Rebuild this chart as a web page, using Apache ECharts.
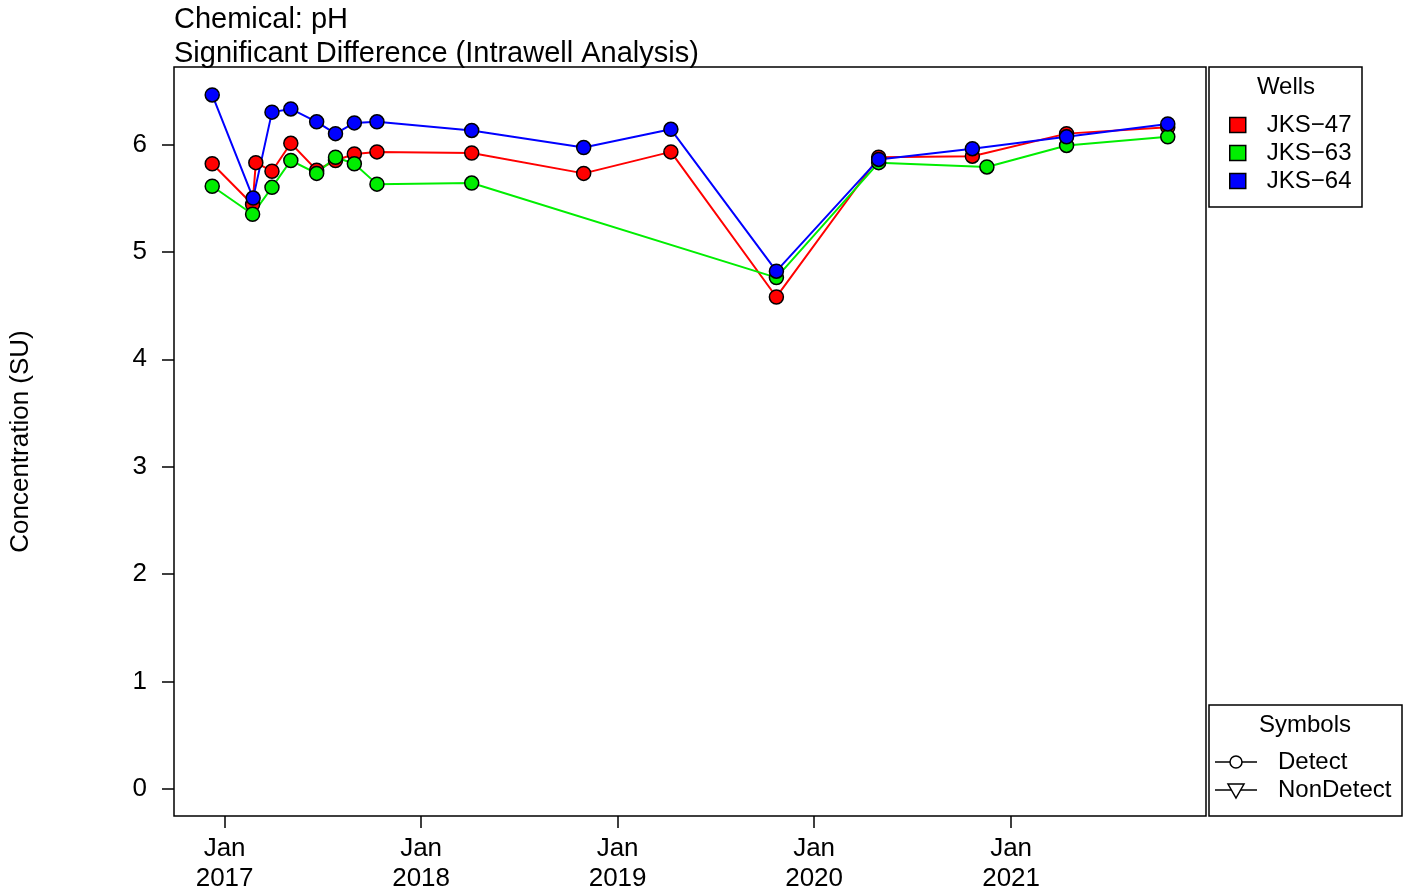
<!DOCTYPE html>
<html>
<head>
<meta charset="utf-8">
<script src="https://cdn.jsdelivr.net/npm/echarts@6/dist/echarts.min.js"></script>
<style>
  html, body { margin: 0; padding: 0; background: #fff; }
  #chart { width: 1406px; height: 896px; }
</style>
</head>
<body>
<div id="chart"></div>
<script>
var wells = ['JKS\u221247', 'JKS\u221263', 'JKS\u221264'];
var wellColors = ['#ff0000', '#00ee00', '#0000ff'];

var dates47 = ['2016-12-09', '2017-02-22', '2017-02-28', '2017-03-30', '2017-05-04', '2017-06-21',
  '2017-07-26', '2017-08-30', '2017-10-11', '2018-04-05', '2018-10-30', '2019-04-10',
  '2019-10-23', '2020-04-30', '2020-10-21', '2021-04-14', '2021-10-19'];
var ph47 = [5.82, 5.44, 5.83, 5.75, 6.01, 5.76, 5.85, 5.91, 5.93, 5.92, 5.73, 5.93,
  4.58, 5.88, 5.89, 6.10, 6.16];

var dates63 = ['2016-12-09', '2017-02-22', '2017-03-30', '2017-05-04', '2017-06-21', '2017-07-26',
  '2017-08-30', '2017-10-11', '2018-04-05', '2019-10-23', '2020-04-30', '2020-11-17',
  '2021-04-14', '2021-10-19'];
var ph63 = [5.61, 5.35, 5.60, 5.85, 5.73, 5.88, 5.82, 5.63, 5.64, 4.76, 5.83, 5.79, 5.99, 6.07];

var dates64 = ['2016-12-09', '2017-02-23', '2017-03-30', '2017-05-04', '2017-06-21', '2017-07-26',
  '2017-08-30', '2017-10-11', '2018-04-05', '2018-10-30', '2019-04-10', '2019-10-23',
  '2020-04-30', '2020-10-21', '2021-04-14', '2021-10-19'];
var ph64 = [6.46, 5.50, 6.30, 6.33, 6.21, 6.10, 6.20, 6.21, 6.13, 5.97, 6.14, 4.82,
  5.86, 5.96, 6.07, 6.19];

var xTicks = ['2017-01-01', '2018-01-01', '2019-01-01', '2020-01-01', '2021-01-01'];
var yTicks = [0, 1, 2, 3, 4, 5, 6];

var font = "'Liberation Sans', Arial, sans-serif";

function t(s) {
  var p = s.split('-');
  return new Date(+p[0], +p[1] - 1, +p[2]).getTime();
}
function pairs(ds, vs) {
  return ds.map(function (d, i) { return [t(d), vs[i]]; });
}

var chart = echarts.init(document.getElementById('chart'));

var seriesData = [pairs(dates47, ph47), pairs(dates63, ph63), pairs(dates64, ph64)];

chart.setOption({
  animation: false,
  title: {
    text: 'Chemical: pH\nSignificant Difference (Intrawell Analysis)',
    left: 174, top: 3, padding: 0,
    textStyle: { fontFamily: font, fontSize: 29, fontWeight: 'normal', color: '#000', lineHeight: 34 }
  },
  grid: {
    left: 174, top: 67, right: 200, bottom: 80,
    show: true, borderColor: '#000', borderWidth: 1.5, backgroundColor: 'transparent'
  },
  legend: {
    data: wells,
    orient: 'vertical',
    left: 1224, top: 108,
    icon: 'rect',
    itemWidth: 16, itemHeight: 15, itemGap: 4,
    itemStyle: { borderColor: '#000', borderWidth: 1.5 },
    textStyle: { fontFamily: font, fontSize: 24, color: '#000', lineHeight: 24, padding: [0, 0, 0, 16] }
  },
  xAxis: {
    type: 'value',
    min: t('2016-09-29'),
    max: t('2021-12-29'),
    axisLine: { show: false, onZero: false },
    axisTick: { show: true, inside: false, length: 12, lineStyle: { color: '#000', width: 1.5 }, customValues: xTicks.map(t) },
    axisLabel: {
      customValues: xTicks.map(t),
      margin: 18, fontFamily: font, fontSize: 26, color: '#000', lineHeight: 30,
      formatter: function (v) { return 'Jan\n' + new Date(v).getFullYear(); }
    },
    splitLine: { show: false }
  },
  yAxis: {
    type: 'value',
    min: -0.25, max: 6.72,
    name: 'Concentration (SU)',
    nameLocation: 'middle',
    nameGap: 140,
    nameTextStyle: { fontFamily: font, fontSize: 26, color: '#000' },
    axisLine: { show: false, onZero: false },
    axisTick: { show: true, inside: false, length: 12, lineStyle: { color: '#000', width: 1.5 }, customValues: yTicks },
    axisLabel: { customValues: yTicks, margin: 27, fontFamily: font, fontSize: 26, color: '#000' },
    splitLine: { show: false }
  },
  series: wells.map(function (w, i) {
    return {
      name: w,
      type: 'line',
      data: seriesData[i],
      symbol: 'circle',
      symbolSize: 14,
      showAllSymbol: true,
      lineStyle: { color: wellColors[i], width: 2 },
      itemStyle: { color: wellColors[i], borderColor: '#000', borderWidth: 1.5 },
      emphasis: { disabled: true }
    };
  }),
  graphic: [
    { type: 'rect', shape: { x: 1209, y: 67, width: 153, height: 140 },
      style: { fill: 'none', stroke: '#000', lineWidth: 1.5 } },
    { type: 'text', x: 1286, y: 87,
      style: { text: 'Wells', fontFamily: font, fontSize: 24, fill: '#000', align: 'center', verticalAlign: 'middle' } },
    { type: 'rect', shape: { x: 1209, y: 705, width: 193, height: 111 },
      style: { fill: 'none', stroke: '#000', lineWidth: 1.5 } },
    { type: 'text', x: 1305, y: 725,
      style: { text: 'Symbols', fontFamily: font, fontSize: 24, fill: '#000', align: 'center', verticalAlign: 'middle' } },
    { type: 'line', shape: { x1: 1215, y1: 762, x2: 1257, y2: 762 }, style: { stroke: '#000', lineWidth: 1.5 } },
    { type: 'circle', shape: { cx: 1236, cy: 762, r: 6 }, style: { fill: '#fff', stroke: '#000', lineWidth: 1.5 } },
    { type: 'text', x: 1278, y: 762,
      style: { text: 'Detect', fontFamily: font, fontSize: 24, fill: '#000', align: 'left', verticalAlign: 'middle' } },
    { type: 'line', shape: { x1: 1215, y1: 790, x2: 1257, y2: 790 }, style: { stroke: '#000', lineWidth: 1.5 } },
    { type: 'polygon', shape: { points: [[1228, 784], [1244, 784], [1236, 798]] },
      style: { fill: '#fff', stroke: '#000', lineWidth: 1.5 } },
    { type: 'text', x: 1278, y: 790,
      style: { text: 'NonDetect', fontFamily: font, fontSize: 24, fill: '#000', align: 'left', verticalAlign: 'middle' } }
  ]
});
</script>
</body>
</html>
